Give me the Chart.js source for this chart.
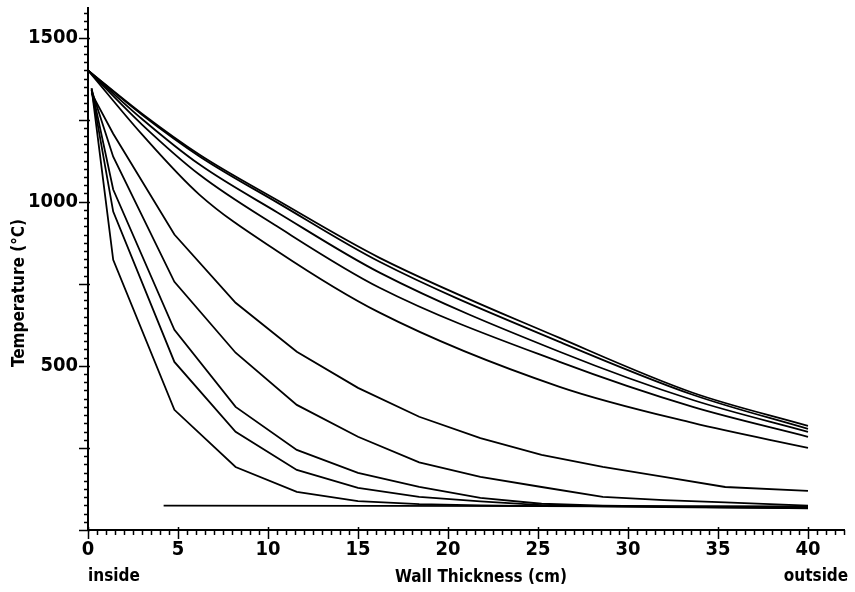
<!DOCTYPE html>
<html lang="en">
<head>
<meta charset="UTF-8" />
<title>Wall Temperature Profiles</title>
<script src="https://cdn.jsdelivr.net/npm/chart.js"></script>
<style>
  html, body { margin: 0; padding: 0; background: #fff; }
  #wrap { width: 855px; height: 592px; }
</style>
</head>
<body>
<div id="wrap"><canvas id="wallChart"></canvas></div>
<script>
  // depth into the wall (cm) for the flatter profiles
  const depthSlow = [0, 3, 6.2, 10.5, 16.2, 26.2, 33.6, 40];
  const slow1 = [1400, 1268, 1143, 1005, 829, 585, 418, 317];
  const slow2 = [1400, 1265, 1138, 998, 817, 573, 412, 308];
  const slow3 = [1400, 1252, 1113, 968, 784, 543, 396, 299];
  const slow4 = [1400, 1235, 1082, 925, 738, 512, 375, 284];
  const slow5 = [1400, 1205, 1021, 850, 662, 436, 326, 250];

  // depth (cm) for the steep profiles
  const depthFast = [0.2, 1.4, 4.8, 8.2, 11.6, 15.0, 18.4, 21.8, 25.2, 28.6, 32.0, 35.4, 40];
  const fast1 = [1330, 1207, 900, 692, 543, 433, 345, 280, 229, 192, 162, 131, 119];
  const fast2 = [1340, 1137, 756, 540, 381, 284, 206, 162, 131, 101, 91, 84, 74];
  const fast3 = [1345, 1037, 610, 375, 244, 174, 131, 98, 80, 74, 72, 71, 70];
  const fast4 = [1340, 970, 512, 299, 183, 128, 101, 87, 76, 72, 70, 68, 67];
  const fast5 = [1345, 823, 366, 192, 116, 88, 79, 75, 73, 72, 71, 69, 66];

  // outer surface line
  const outerDepth = [4.2, 40];
  const outerTemp = [74, 72];

  const yLabelled = [500, 1000, 1500];

  const NARROW = '"DejaVu Sans Condensed", "Liberation Sans", sans-serif';

  function pts(xs, ys) {
    return xs.map((x, i) => ({ x: x, y: ys[i] }));
  }

  // [x values, y values, smooth?]
  const series = [
    [depthSlow, slow1, true], [depthSlow, slow2, true], [depthSlow, slow3, true],
    [depthSlow, slow4, true], [depthSlow, slow5, true],
    [depthFast, fast1, false], [depthFast, fast2, false], [depthFast, fast3, false],
    [depthFast, fast4, false], [depthFast, fast5, false],
    [outerDepth, outerTemp, false]
  ];

  // minor/major tick marks and the free text around the axes
  const axisMarks = {
    id: 'axisMarks',
    afterDraw(chart) {
      const { ctx, chartArea, scales: { x, y } } = chart;
      ctx.save();
      ctx.strokeStyle = '#000';
      ctx.lineWidth = 1.5;
      ctx.beginPath();
      for (let v = 0; v <= 1575; v += 25) {
        const py = Math.round(y.getPixelForValue(v)) + 0.5;
        const major = v % 250 === 0;
        ctx.moveTo(chartArea.left - (major ? 9 : 4), py);
        ctx.lineTo(chartArea.left + (major ? 2 : 0), py);
      }
      for (let v = 0; v <= 42; v += 0.5) {
        const px = Math.round(x.getPixelForValue(v)) + 0.5;
        const major = v % 5 === 0;
        ctx.moveTo(px, chartArea.bottom - (major ? 3 : 0));
        ctx.lineTo(px, chartArea.bottom + (major ? 9 : 5));
      }
      ctx.stroke();

      ctx.fillStyle = '#000';
      ctx.font = 'bold 17px ' + NARROW;
      ctx.textBaseline = 'middle';
      ctx.textAlign = 'center';
      ctx.fillText('Wall Thickness (cm)', 481, 578);
      ctx.textAlign = 'left';
      ctx.fillText('inside', x.getPixelForValue(0), 577);
      ctx.textAlign = 'center';
      ctx.fillText('outside', 816, 577);

      ctx.translate(20, 293);
      ctx.rotate(-Math.PI / 2);
      ctx.fillText('Temperature (°C)', 0, 0);
      ctx.restore();
    }
  };

  new Chart(document.getElementById('wallChart'), {
    type: 'line',
    data: {
      datasets: series.map(([xs, ys, smooth]) => ({
        data: pts(xs, ys),
        borderColor: '#000',
        borderWidth: 1.8,
        pointRadius: 0,
        tension: 0,
        cubicInterpolationMode: smooth ? 'monotone' : 'default',
        fill: false
      }))
    },
    options: {
      responsive: true,
      maintainAspectRatio: false,
      animation: false,
      layout: { padding: { left: 0, right: 11, top: 8, bottom: 0 } },
      plugins: { legend: { display: false }, tooltip: { enabled: false } },
      scales: {
        x: {
          type: 'linear',
          min: 0,
          max: 42,
          grid: { display: false },
          border: { color: '#000', width: 2 },
          afterFit: (s) => { s.height = 62; s.paddingLeft = 0; s.paddingRight = 0; },
          ticks: {
            stepSize: 5,
            includeBounds: false,
            padding: 0,
            color: '#000',
            font: { family: NARROW, size: 20, weight: 'bold' }
          }
        },
        y: {
          min: 0,
          max: 1590,
          grid: { display: false },
          border: { color: '#000', width: 2 },
          afterFit: (s) => { s.width = 88; s.paddingTop = 0; s.paddingBottom = 0; },
          ticks: {
            stepSize: 250,
            includeBounds: false,
            padding: 2,
            color: '#000',
            font: { family: NARROW, size: 20, weight: 'bold' },
            callback: (v) => yLabelled.includes(v) ? String(v) : ''
          }
        }
      }
    },
    plugins: [axisMarks]
  });
</script>
</body>
</html>
